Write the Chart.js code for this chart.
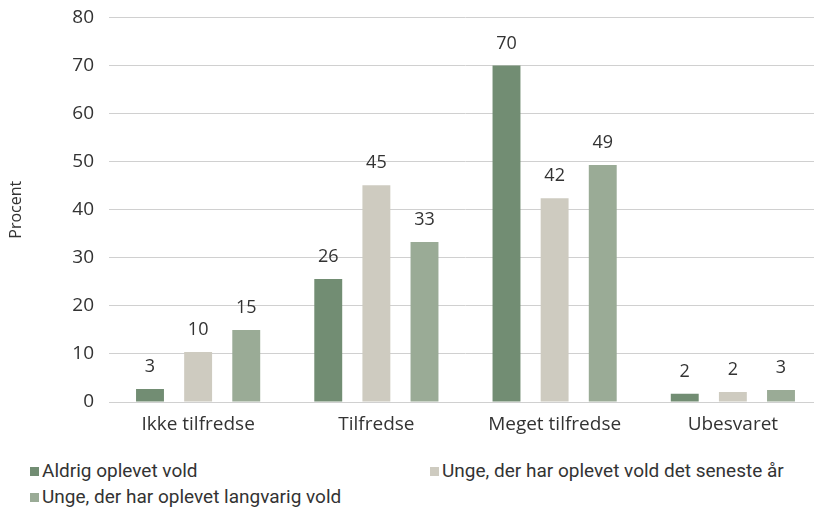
<!DOCTYPE html>
<html>
<head>
<meta charset="utf-8">
<script src="https://cdn.jsdelivr.net/npm/chart.js@4"></script>
<style>
  html, body { margin: 0; padding: 0; background: #fff; overflow: hidden; }
  #wrap { position: relative; width: 814px; height: 513px; overflow: hidden; }
  #chartBox { position: absolute; left: 0; top: -9px; width: 822px; height: 449px; }
  .legend-item { position: absolute; font-family: Roboto, sans-serif; font-size: 19px; color: #333; white-space: nowrap; line-height: 22px; }
  .legend-item .sw { display: inline-block; width: 9px; height: 9px; margin-right: 3px; vertical-align: 1px; }
</style>
</head>
<body>
<div id="wrap">
  <div id="chartBox"><canvas id="chart"></canvas></div>
  <div id="legend"></div>
</div>
<script>
// Tilfredshed, procent
const categories = ["Ikke tilfredse", "Tilfredse", "Meget tilfredse", "Ubesvaret"];
const seriesNames = [
    "Aldrig oplevet vold",
    "Unge, der har oplevet vold det seneste år",
    "Unge, der har oplevet langvarig vold"
];
const aldrig    = [2.7, 25.6, 70.0, 1.7];
const senesteAr = [10.4, 45.1, 42.4, 2.1];
const langvarig = [15.0, 33.3, 49.3, 2.5];
const yTicks = [0, 10, 20, 30, 40, 50, 60, 70, 80];

const colors = ["#728d73", "#cecbc0", "#9aab96"];
const fontFamily = "'Open Sans', sans-serif";
const textColor = "#333";

// værdier over søjlerne
const valueLabels = {
    id: "valueLabels",
    afterDatasetsDraw(chart) {
        const ctx = chart.ctx;
        ctx.save();
        ctx.font = "18px " + fontFamily;
        ctx.fillStyle = textColor;
        ctx.textAlign = "center";
        ctx.textBaseline = "middle";
        chart.data.datasets.forEach((ds, i) => {
            chart.getDatasetMeta(i).data.forEach((bar, j) => {
                ctx.fillText(Math.round(ds.data[j]), bar.x, bar.y - 22);
            });
        });
        ctx.restore();
    }
};

const allSeries = [aldrig, senesteAr, langvarig];

new Chart(document.getElementById("chart"), {
    type: "bar",
    data: {
        labels: categories,
        datasets: allSeries.map((d, i) => ({
            label: seriesNames[i],
            data: d,
            backgroundColor: colors[i],
            barPercentage: 0.58,
            categoryPercentage: 0.81,
        })),
    },
    options: {
        responsive: true,
        maintainAspectRatio: false,
        animation: false,
        layout: { padding: { top: 9, left: 0, right: 0, bottom: 0 } },
        plugins: { legend: { display: false }, tooltip: { enabled: false } },
        scales: {
            x: {
                grid: { display: false },
                border: { display: true, color: "#d0d0d0" },
                ticks: { color: textColor, font: { family: fontFamily, size: 19 }, padding: 3 },
                afterFit(scale) { scale.height = 38; },
            },
            y: {
                min: 0, max: 80,
                afterBuildTicks(scale) { scale.ticks = yTicks.map(v => ({ value: v })); },
                grid: { color: "#d0d0d0", drawTicks: false },
                border: { display: false },
                ticks: { color: textColor, font: { family: fontFamily, size: 19 }, padding: 15 },
                title: { display: true, text: "Procent", color: textColor, font: { family: fontFamily, size: 16 }, padding: { top: 7, bottom: 0 } },
                afterFit(scale) { scale.width = 109; },
            },
        },
    },
    plugins: [valueLabels],
});

// legend i to kolonner
const legendPos = [[30, 460], [430, 460], [30, 486]];
const legendEl = document.getElementById("legend");
seriesNames.forEach((name, i) => {
    const item = document.createElement("div");
    item.className = "legend-item";
    item.style.left = legendPos[i][0] + "px";
    item.style.top = legendPos[i][1] + "px";
    item.innerHTML = '<span class="sw" style="background:' + colors[i] + '"></span>' + name;
    legendEl.appendChild(item);
});
</script>
</body>
</html>
